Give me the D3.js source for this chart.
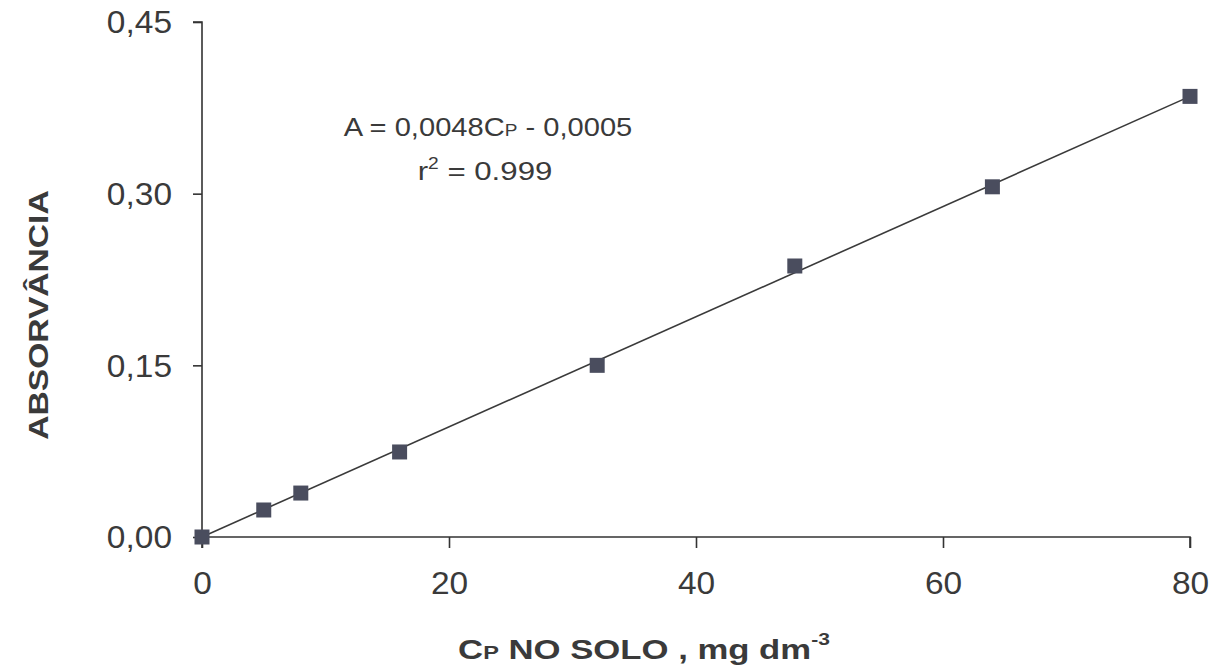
<!DOCTYPE html>
<html>
<head>
<meta charset="utf-8">
<script src="https://cdn.jsdelivr.net/npm/d3@7"></script>
<style>
  body { margin: 0; background: #fff; }
  svg text { font-family: "Liberation Sans", Arial, sans-serif; fill: #3a3a3a; }
</style>
</head>
<body>
<div id="chart"></div>
<script>
// data
var cpValues = [0, 5, 8, 16, 32, 48, 64, 80];
var absValues = [0, 0.0236, 0.0384, 0.0743, 0.150, 0.2368, 0.306, 0.385];
var fitX = [0, 80];
var fitY = [0, 0.385];
var xTicks = [0, 20, 40, 60, 80];
var yTicks = [0, 0.15, 0.30, 0.45];

var W = 1215, H = 671,
    margin = { top: 22, right: 25, bottom: 134, left: 202 },
    width = 1190 - margin.left,
    height = 537 - margin.top;

var svg = d3.select('#chart').append('svg')
    .attr('width', W)
    .attr('height', H);

var g = svg.append('g')
    .attr('transform', 'translate(' + margin.left + ',' + margin.top + ')');

var xScale = d3.scaleLinear().domain([0, 80]).range([0, width]);
var yScale = d3.scaleLinear().domain([0, 0.45]).range([height, 0]);

var fmtY = function(d) { return d3.format('.2f')(d).replace('.', ','); };

// the scan is a bit wider than tall, so stretch text horizontally
function stretched(parent, x, y, sx, rot) {
    return parent.append('text')
        .attr('transform', 'translate(' + x + ',' + y + ')' + (rot ? ' rotate(' + rot + ')' : '') + ' scale(' + sx + ',1)')
        .attr('text-anchor', 'middle');
}

var yAxis = g.append('g')
    .call(d3.axisLeft(yScale).tickValues(yTicks).tickFormat(fmtY).tickSize(9).tickPadding(21));
yAxis.selectAll('text')
    .style('font-size', '31px')
    .attr('dy', '0.35em')
    .attr('transform', 'translate(-30,0) scale(1.08,1) translate(30,0)');

var xAxis = g.append('g')
    .attr('transform', 'translate(0,' + height + ')')
    .call(d3.axisBottom(xScale).tickValues(xTicks).tickSize(11).tickPadding(24));
xAxis.selectAll('text').style('font-size', '31px').attr('dy', '0.71em')
    .attr('transform', 'scale(1.08,1)')
    .attr('x', function() { return 0; });
xAxis.selectAll('.tick text').attr('transform', 'scale(1.08,1)');

svg.selectAll('.domain').attr('stroke', '#333').attr('stroke-width', 1.6);
svg.selectAll('.tick line').attr('stroke', '#333').attr('stroke-width', 1.6);
// no outer ticks except the 0 tick below the x axis
yAxis.select('.domain').attr('d', 'M0,' + (height + 11) + 'V0H-9');
xAxis.select('.domain').attr('d', 'M0,0H' + width + 'V11');

// fitted line
var line = d3.line()
    .x(function(d) { return xScale(d[0]); })
    .y(function(d) { return yScale(d[1]); });
g.append('path')
    .datum(d3.zip(fitX, fitY))
    .attr('d', line)
    .attr('fill', 'none')
    .attr('stroke', '#3a3a3a')
    .attr('stroke-width', 1.6);

// markers
var sq = 15;
g.selectAll('rect.pt').data(d3.zip(cpValues, absValues))
  .enter().append('rect')
    .attr('class', 'pt')
    .attr('x', function(d) { return xScale(d[0]) - sq / 2; })
    .attr('y', function(d) { return yScale(d[1]) - sq / 2; })
    .attr('width', sq)
    .attr('height', sq)
    .attr('fill', '#4a4d5e');

// equation
var eq = stretched(svg, 488, 136, 1.12).style('font-size', '26px');
eq.append('tspan').text('A = 0,0048C');
eq.append('tspan').text('P').style('font-size', '17px');
eq.append('tspan').text(' - 0,0005');

var r2 = stretched(svg, 485, 180, 1.2).style('font-size', '26px');
r2.append('tspan').text('r');
r2.append('tspan').text('2').style('font-size', '16px').attr('dy', '-11');
r2.append('tspan').text(' = 0.999').attr('dy', '11');

// axis titles
stretched(svg, 48, 315, 1.2, -90)
    .style('font-size', '28px')
    .style('font-weight', 'bold')
    .text('ABSORVÂNCIA');

var xt = stretched(svg, 644, 659, 1.24)
    .style('font-size', '28px')
    .style('font-weight', 'bold');
xt.append('tspan').text('C');
xt.append('tspan').text('P').style('font-size', '19px');
xt.append('tspan').text(' NO SOLO , mg dm');
xt.append('tspan').text('-3').style('font-size', '17px').attr('dy', '-14');
</script>
</body>
</html>
